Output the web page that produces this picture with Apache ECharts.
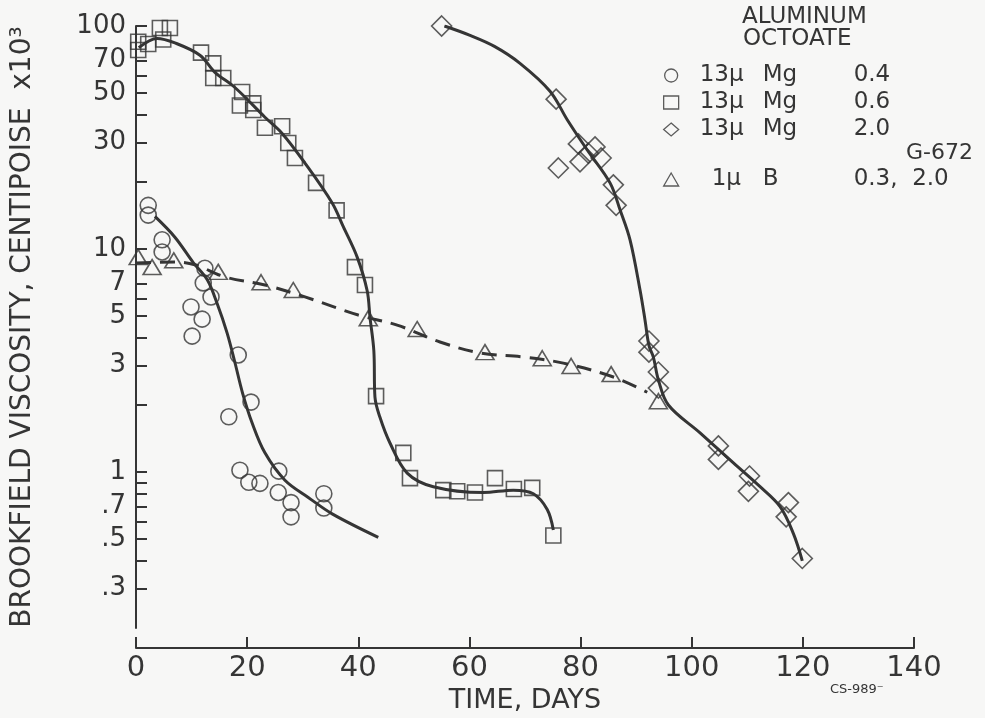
<!DOCTYPE html>
<html>
<head>
<meta charset="utf-8">
<script src="https://cdn.jsdelivr.net/npm/echarts@6/dist/echarts.min.js"></script>
<style>
html,body{margin:0;padding:0;background:#f7f7f6;}
#chart{width:985px;height:718px;}
</style>
</head>
<body>
<div id="chart"></div>
<script>
// ---- data (time in days, viscosity in centipoise x10^3) ----
const seriesNames = ['13μ Mg 0.4', '13μ Mg 0.6', '13μ Mg 2.0', '1μ B 0.3, 2.0'];
const legendSize = ['13μ', '13μ', '13μ', '1μ'];
const legendAgent = ['Mg', 'Mg', 'Mg', 'B'];
const legendConc = ['0.4', '0.6', '2.0', '0.3,  2.0'];

const circleDays = [2.2, 2.2, 4.7, 4.7, 12.4, 12.1, 13.5, 9.9, 11.9, 10.1, 18.4, 20.7, 16.7, 18.7, 20.3, 22.3, 25.7, 25.6, 27.9, 27.9, 33.8, 33.8];
const circleVisc = [15.7, 14.2, 11, 9.7, 8.2, 7.05, 6.1, 5.5, 4.85, 4.07, 3.35, 2.06, 1.77, 1.02, 0.90, 0.89, 1.01, 0.81, 0.73, 0.63, 0.80, 0.69];

const squareDays = [0.4, 0.4, 2.2, 4.3, 6.1, 4.9, 11.7, 13.9, 13.9, 15.7, 19.1, 18.7, 21.1, 21.1, 23.2, 26.3, 27.4, 28.6, 32.4, 36.1, 39.4, 41.2, 43.2, 48.1, 49.3, 55.3, 57.8, 61, 64.6, 68, 71.3, 75.1];
const squareVisc = [78, 85, 83, 98, 98, 87, 76, 68, 58.5, 58.5, 50.6, 44, 45, 42, 35, 35.5, 29.9, 25.6, 19.8, 14.9, 8.3, 6.9, 2.19, 1.22, 0.94, 0.83, 0.82, 0.81, 0.94, 0.84, 0.85, 0.52];

const diamondDays = [55, 75.6, 79.6, 76, 79.9, 82.6, 81.4, 83.7, 85.9, 86.4, 92.3, 92.3, 94, 94, 104.8, 104.8, 110.4, 110.2, 117.4, 117, 119.9];
const diamondVisc = [100, 47, 29.6, 23.1, 24.6, 28.7, 26.9, 25.6, 19.4, 15.7, 3.87, 3.45, 2.81, 2.38, 1.31, 1.14, 0.96, 0.82, 0.73, 0.63, 0.41];

const triangleDays = [0.4, 2.9, 6.8, 14.8, 22.5, 28.3, 41.8, 50.6, 62.8, 73.1, 78.3, 85.5, 94];
const triangleVisc = [9.2, 8.3, 8.9, 7.9, 7.1, 6.55, 4.9, 4.38, 3.45, 3.24, 2.99, 2.75, 2.08];

// hand-faired curves
const circleFitDays = [3.4, 7, 10.3, 12.8, 14.6, 16.4, 17.8, 19.2, 20.9, 23.2, 26.8, 31, 35.3, 43.6];
const circleFitVisc = [14, 11.3, 8.7, 7.3, 5.7, 4.2, 3.1, 2.25, 1.66, 1.22, 0.92, 0.77, 0.65, 0.51];

const squareFitDays = [0.5, 3.8, 7, 11.5, 14.2, 17.8, 23.2, 26.3, 30.4, 35.3, 37.3, 39.8, 41.6, 42.1, 42.8, 43, 43.9, 45.7, 48.8, 53.5, 62.5, 67.9, 71.5, 74, 75.1];
const squareFitVisc = [80, 88, 84, 74, 62, 53, 39, 33, 24.3, 16.1, 12.6, 9.2, 6.5, 4.95, 3.5, 2.17, 1.76, 1.35, 0.99, 0.86, 0.81, 0.83, 0.80, 0.68, 0.55];

const diamondFitDays = [55.5, 60, 64.5, 69.1, 74.5, 77.6, 81.2, 85.3, 87.1, 88.9, 90.7, 91.6, 92.3, 93.1, 94, 95.8, 101.5, 107.5, 112.3, 115.9, 118.3, 119.9];
const diamondFitVisc = [100, 91, 81, 68, 51, 38, 27.8, 19.8, 15, 11, 6.55, 4.8, 3.7, 3.28, 2.59, 2.0, 1.5, 1.1, 0.86, 0.70, 0.53, 0.40];

const triangleFitDays = [0, 7, 10.6, 16, 23.2, 30.4, 40, 47, 54.7, 61.9, 69.7, 76.9, 85.9, 92];
const triangleFitVisc = [8.65, 8.75, 8.5, 7.5, 6.9, 6.1, 5.06, 4.56, 3.83, 3.42, 3.28, 3.08, 2.67, 2.28];

const yTickValues = [100, 70, 60, 50, 40, 30, 20, 10, 7, 6, 5, 4, 3, 2, 1, 0.9, 0.8, 0.7, 0.6, 0.5, 0.4, 0.3];
const yLabelValues = [100, 70, 50, 30, 10, 7, 5, 3, 1, 0.7, 0.5, 0.3];
const yLabelTexts = ['100', '70', '50', '30', '10', '7', '5', '3', '1', '.7', '.5', '.3'];
const xTickLabels = ['0', '20', '40', '60', '80', '100', '120', '140'];

// ---- chart ----
const INK = '#353535';
const FONT = 'DejaVu Sans';
const zip = (xs, ys) => xs.map((x, i) => [x, ys[i]]);

function markerSeries(name, symbol, size, xs, ys) {
  return {
    name: name, type: 'scatter', xAxisIndex: 0, yAxisIndex: 0,
    symbol: symbol, symbolSize: size, z: 5,
    itemStyle: { color: 'rgba(0,0,0,0)', borderColor: INK, borderWidth: 1.6 },
    emphasis: { disabled: true },
    data: zip(xs, ys)
  };
}
function curveSeries(name, xs, ys, dashed) {
  return {
    name: name, type: 'line', xAxisIndex: 0, yAxisIndex: 0,
    showSymbol: false, symbol: 'none', smooth: 0.35, z: 3,
    lineStyle: { color: INK, width: 3, type: dashed ? [15, 9] : 'solid', cap: 'butt' },
    emphasis: { disabled: true },
    data: zip(xs, ys)
  };
}

const logMin = Math.log10(0.2), logMax = Math.log10(100);
function yLabelFormatter(v) {
  for (let i = 0; i < yLabelValues.length; i++) {
    if (Math.abs(Math.log10(yLabelValues[i]) - v) < 1e-6) return yLabelTexts[i];
  }
  return '';
}

function legendFormatter(name) {
  const i = seriesNames.indexOf(name);
  const first = i === 3 ? 'a2' : 'a';
  return '{' + first + '|' + legendSize[i] + '}{b|' + legendAgent[i] + '}{c|' + legendConc[i] + '}';
}
const legendRich = {
  a: { width: 63, padding: [0, 0, 0, 16], fontSize: 23, fontFamily: FONT, color: INK },
  a2: { width: 51, padding: [0, 0, 0, 28], fontSize: 23, fontFamily: FONT, color: INK },
  b: { width: 91, fontSize: 23, fontFamily: FONT, color: INK },
  c: { fontSize: 23, fontFamily: FONT, color: INK }
};
function legendBase(top, names) {
  return {
    left: 663, top: top, orient: 'vertical', padding: 0, itemGap: 2,
    itemWidth: 15, itemHeight: 13, selectedMode: false,
    itemStyle: { color: 'rgba(0,0,0,0)', borderColor: INK, borderWidth: 1.3 },
    textStyle: { rich: legendRich, lineHeight: 25 },
    formatter: legendFormatter,
    data: names
  };
}

const chart = echarts.init(document.getElementById('chart'), null, { renderer: 'canvas' });
chart.setOption({
  backgroundColor: '#f7f7f6',
  animation: false,
  textStyle: { fontFamily: FONT, color: INK },
  grid: { left: 136, right: 71, top: 26, bottom: 90, containLabel: false, outerBoundsMode: 'none' },
  xAxis: {
    type: 'value', min: 0, max: 140, interval: 20, offset: 20, position: 'bottom',
    axisLine: { onZero: false, lineStyle: { color: INK, width: 2 } },
    axisTick: { inside: true, length: 11, lineStyle: { color: INK, width: 2 } },
    axisLabel: { margin: 6, fontSize: 29, color: INK, fontFamily: FONT,
      formatter: (v) => xTickLabels[Math.round(v / 20)] },
    splitLine: { show: false },
    name: 'TIME, DAYS', nameLocation: 'middle', nameGap: 33,
    nameTextStyle: { fontSize: 27, color: INK, fontFamily: FONT }
  },
  yAxis: [
    {
      type: 'log', logBase: 10, min: 0.2, max: 100, position: 'left',
      axisLine: { show: true, onZero: false, lineStyle: { color: INK, width: 2 } },
      axisTick: { show: false }, axisLabel: { show: false }, splitLine: { show: false },
      minorTick: { show: false }, minorSplitLine: { show: false }
    },
    {
      type: 'value', min: logMin, max: logMax, position: 'left',
      axisLine: { show: false, onZero: false },
      axisTick: { show: true, inside: true, length: 11, customValues: yTickValues.map(Math.log10),
        lineStyle: { color: INK, width: 2 } },
      axisLabel: { show: true, margin: 10, fontSize: 26, color: INK, fontFamily: FONT,
        customValues: yLabelValues.map(Math.log10), formatter: yLabelFormatter },
      splitLine: { show: false },
      name: 'BROOKFIELD VISCOSITY, CENTIPOISE  x10³', nameLocation: 'middle', nameRotate: 90, nameGap: 99,
      nameTextStyle: { fontSize: 28, color: INK, fontFamily: FONT }
    }
  ],
  legend: [
    legendBase(63, seriesNames.slice(0, 3)),
    legendBase(167, seriesNames.slice(3))
  ],
  graphic: [
    { type: 'text', left: 742, top: 6, style: { text: 'ALUMINUM', fontSize: 23, fontFamily: FONT, fill: INK } },
    { type: 'text', left: 743, top: 28, style: { text: 'OCTOATE', fontSize: 23, fontFamily: FONT, fill: INK } },
    { type: 'text', left: 906, top: 142, style: { text: 'G-672', fontSize: 22, fontFamily: FONT, fill: INK } },
    { type: 'text', left: 830, top: 683, style: { text: 'CS-989⁻', fontSize: 13, fontFamily: FONT, fill: INK } }
  ],
  series: [
    curveSeries('fit-circle', circleFitDays, circleFitVisc, false),
    curveSeries('fit-square', squareFitDays, squareFitVisc, false),
    curveSeries('fit-diamond', diamondFitDays, diamondFitVisc, false),
    curveSeries('fit-triangle', triangleFitDays, triangleFitVisc, true),
    markerSeries(seriesNames[0], 'circle', 16, circleDays, circleVisc),
    markerSeries(seriesNames[1], 'rect', 15, squareDays, squareVisc),
    markerSeries(seriesNames[2], 'diamond', 20, diamondDays, diamondVisc),
    markerSeries(seriesNames[3], 'triangle', [18, 15], triangleDays, triangleVisc)
  ]
});
</script>
</body>
</html>
